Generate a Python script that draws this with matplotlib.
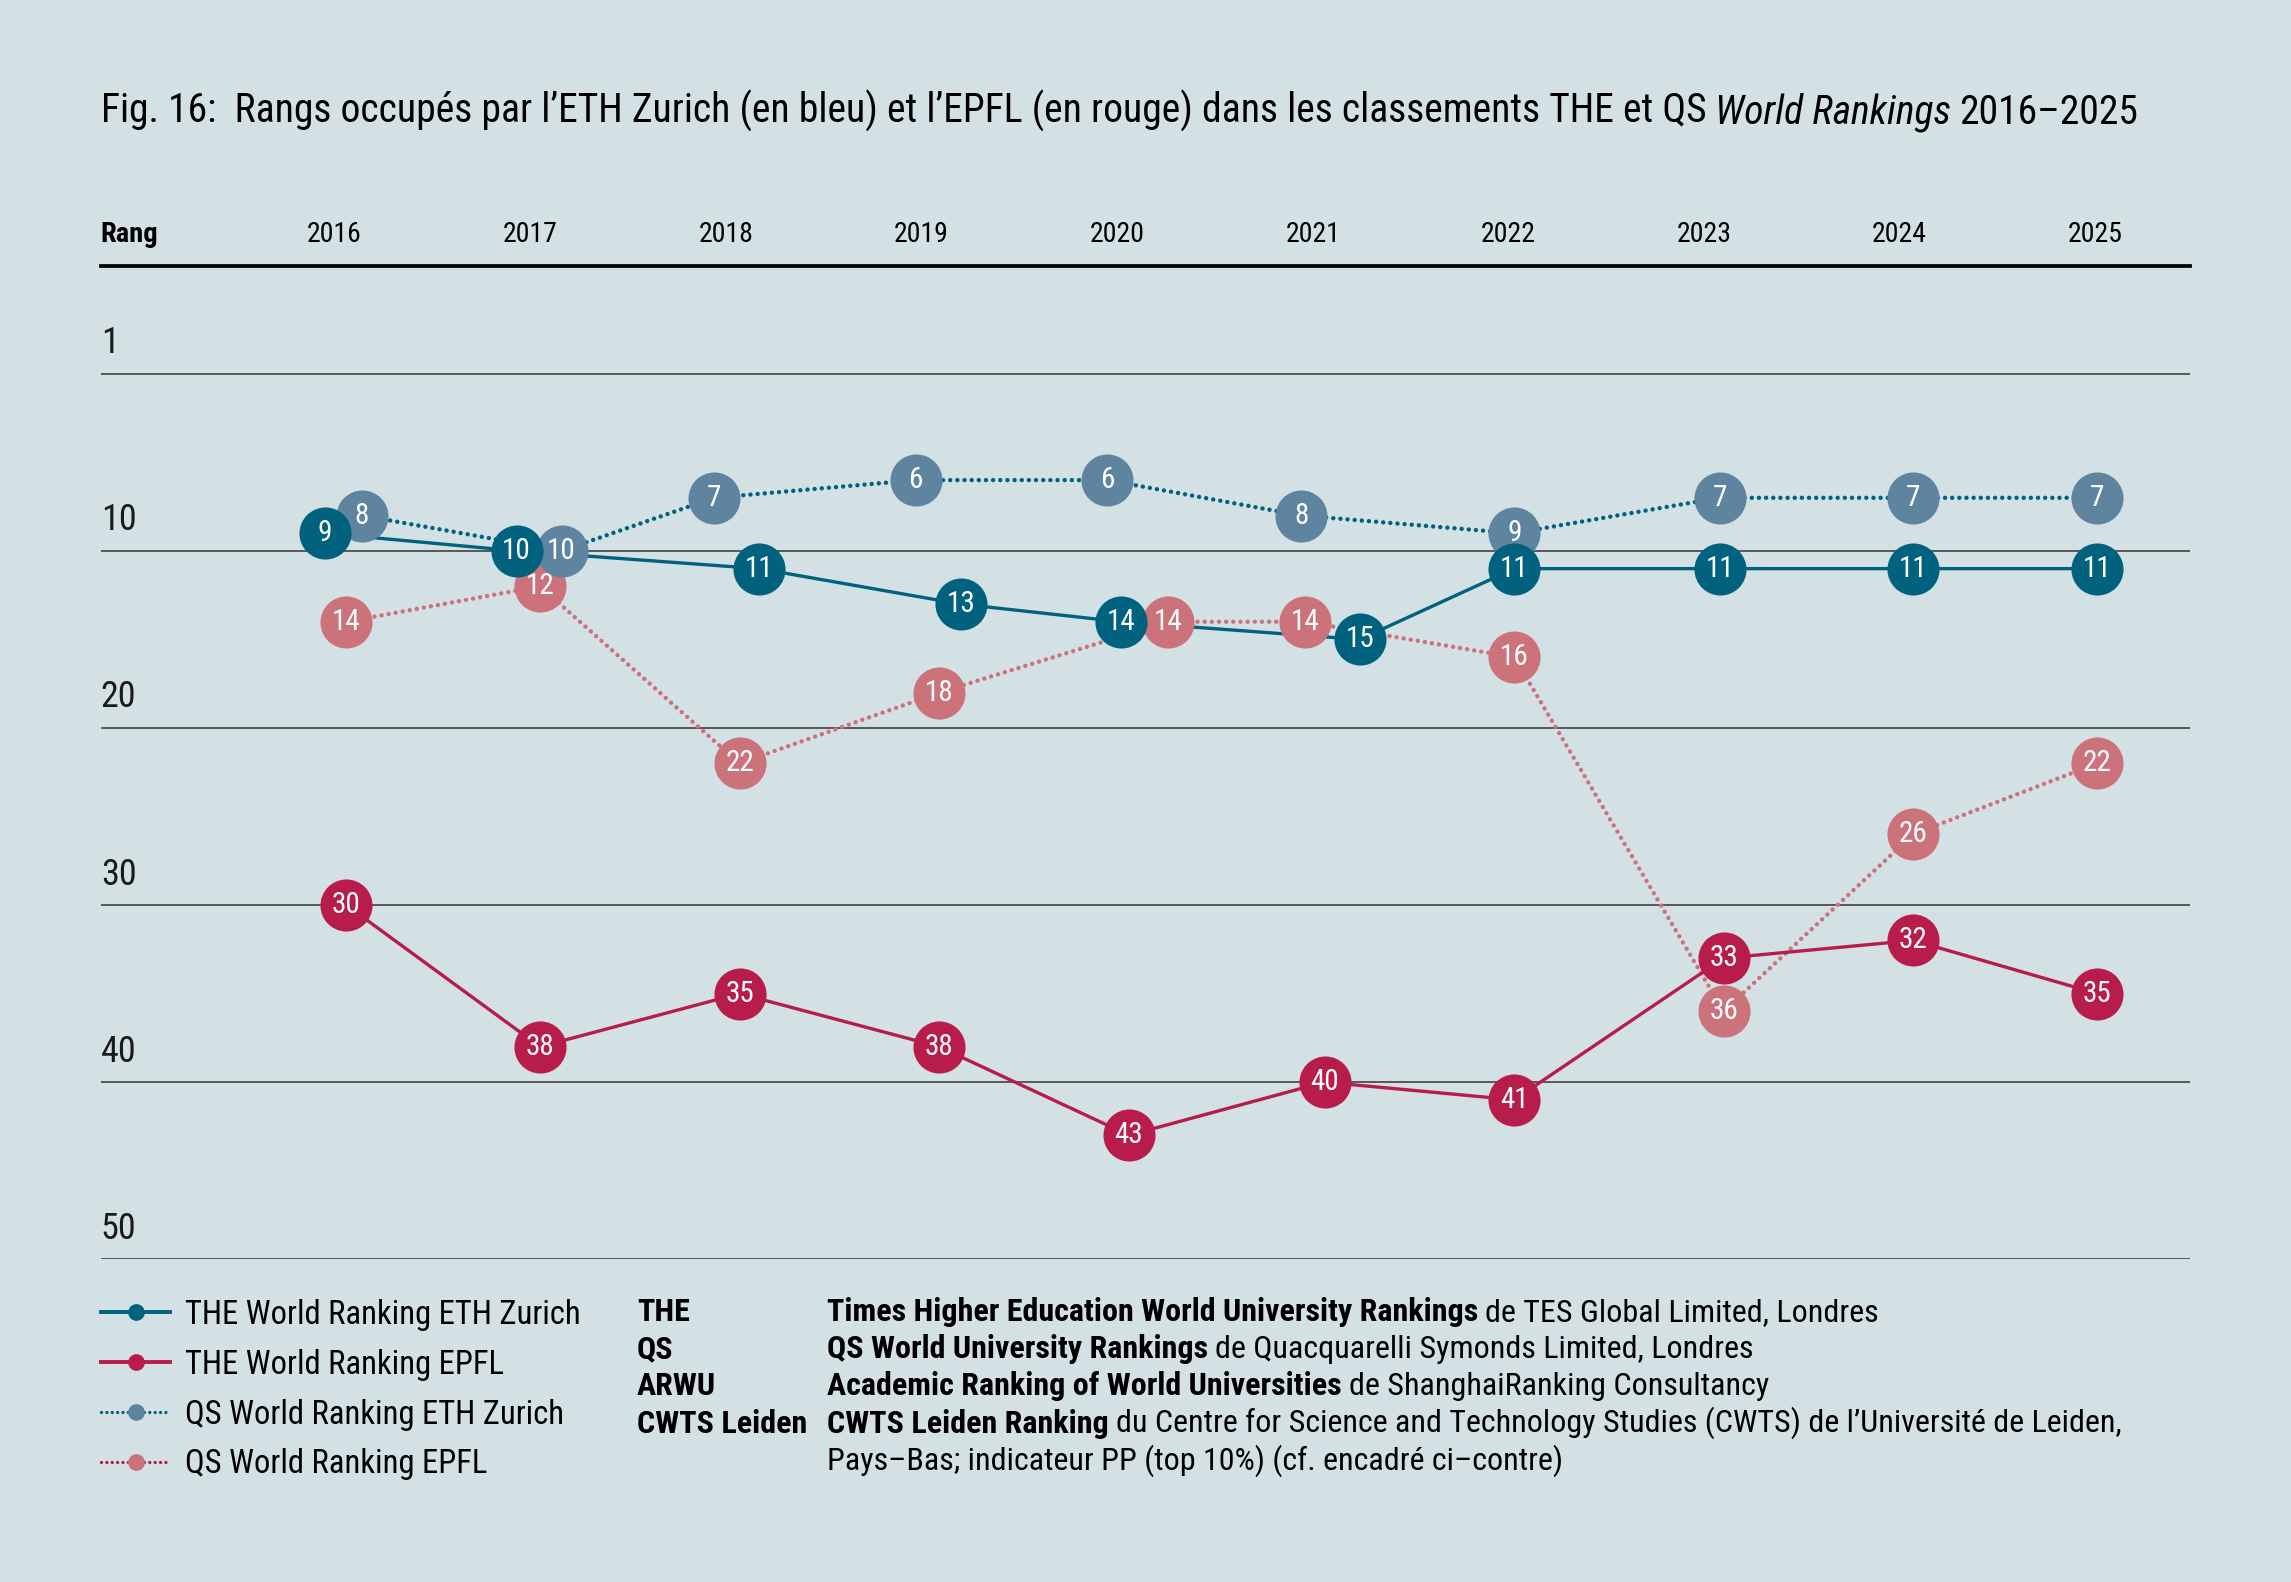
import matplotlib
matplotlib.use('Agg')
from matplotlib import pyplot as plt
from matplotlib import font_manager
from matplotlib.lines import Line2D

# ranks (lower is better)
years = [2016, 2017, 2018, 2019, 2020, 2021, 2022, 2023, 2024, 2025]
the_eth = [9, 10, 11, 13, 14, 15, 11, 11, 11, 11]
the_epfl = [30, 38, 35, 38, 43, 40, 41, 33, 32, 35]
qs_eth = [8, 10, 7, 6, 6, 8, 9, 7, 7, 7]
qs_epfl = [14, 12, 22, 18, 14, 14, 16, 36, 26, 22]

# small horizontal dodge so the circles do not sit on top of each other
the_eth_shift = [-0.05, -0.07, 0.17, 0.20, 0.02, 0.24, 0.03, 0.08, 0.07, 0.01]
the_epfl_shift = [0.06, 0.05, 0.07, 0.09, 0.06, 0.06, 0.03, 0.10, 0.07, 0.01]
qs_eth_shift = [0.14, 0.16, -0.06, -0.03, -0.05, -0.06, 0.03, 0.08, 0.07, 0.01]
qs_epfl_shift = [0.06, 0.05, 0.07, 0.09, 0.26, -0.04, 0.03, 0.10, 0.07, 0.01]

grid_ranks = [0, 10, 20, 30, 40, 50]
grid_labels = ['1', '10', '20', '30', '40', '50']

legend_labels = ['THE World Ranking ETH Zurich', 'THE World Ranking EPFL',
                 'QS World Ranking ETH Zurich', 'QS World Ranking EPFL']
source_abbr = ['THE', 'QS', 'ARWU', 'CWTS Leiden', '']
source_bold = ['Times Higher Education World University Rankings',
               'QS World University Rankings',
               'Academic Ranking of World Universities',
               'CWTS Leiden Ranking', '']
source_rest = ['de TES Global Limited, Londres',
               'de Quacquarelli Symonds Limited, Londres',
               'de ShanghaiRanking Consultancy',
               'du Centre for Science and Technology Studies (CWTS) de l’Université de Leiden,',
               'Pays–Bas; indicateur PP (top 10%) (cf. encadré ci–contre)']

BG = '#d4e1e4'
DARK_BLUE = '#00627f'
GREY_BLUE = '#5f84a0'
CRIMSON = '#b81c4b'
PINK = '#cc727a'

# pick a narrow face if there is one, the original uses a condensed sans
fonts = font_manager.fontManager.ttflist
names = {f.name for f in fonts}
stretch = 'normal'
base = 'Roboto'
for cand in ['Liberation Sans Narrow', 'Roboto Condensed', 'Open Sans Condensed',
             'Noto Sans Condensed', 'DejaVu Sans Condensed']:
    if cand in names:
        base = cand
        break
else:
    for fam in ['Roboto', 'Noto Sans', 'Open Sans']:
        if any(f.name == fam and str(f.stretch) in ('condensed', 'semi-condensed', '75', '87')
               for f in fonts):
            base = fam
            stretch = 'condensed'
            break
plt.rcParams['font.family'] = [base, 'DejaVu Sans']
plt.rcParams['font.stretch'] = stretch

W, H = 1568, 1083  # layout measured on the preview


def fx(px):
    return px / W


def fy(py):
    return 1 - py / H


fig = plt.figure(figsize=(22.91, 15.82), dpi=100, facecolor=BG)
ax = fig.add_axes([fx(69), fy(862), fx(1499) - fx(69), fy(182) - fy(862)])
ax.set_facecolor(BG)
ax.set_xlim(2014.805, 2025.485)
ax.set_ylim(50, -6.1)

for s in ['left', 'right', 'bottom']:
    ax.spines[s].set_visible(False)
ax.spines['top'].set_linewidth(2.7)
ax.spines['top'].set_color('black')
ax.set_yticks([])
ax.set_xticks(years)
ax.set_xticklabels([str(y) for y in years])
ax.tick_params(axis='x', top=True, bottom=False, labeltop=True, labelbottom=False,
               length=0, pad=13, labelsize=20)

for r, lab in zip(grid_ranks, grid_labels):
    ax.axhline(r, color='#4d4d4d', lw=1.3, zorder=1)
    ax.annotate(lab, xy=(2014.805, r), xytext=(0, 9), textcoords='offset points',
                ha='left', va='bottom', fontsize=26, color='#1a1a1a')

ax.annotate('Rang', xy=(0, 1), xycoords='axes fraction', xytext=(0, 13),
            textcoords='offset points', ha='left', va='bottom',
            fontsize=20.5, fontweight='bold')

dots = (0, (0.01, 1.6))
series = [
    (qs_epfl, qs_epfl_shift, PINK, PINK, dots, 3.2, 3),
    (the_epfl, the_epfl_shift, CRIMSON, CRIMSON, '-', 2.4, 4),
    (qs_eth, qs_eth_shift, DARK_BLUE, GREY_BLUE, dots, 3.2, 5),
    (the_eth, the_eth_shift, DARK_BLUE, DARK_BLUE, '-', 2.4, 6),
]

for vals, shift, lc, mc, ls, lw, z in series:
    xs = [y + s for y, s in zip(years, shift)]
    ax.plot(xs, vals, color=lc, ls=ls, lw=lw, zorder=2, solid_capstyle='round',
            dash_capstyle='round')
    ax.plot(xs, vals, ls='none', marker='o', markersize=37.5, markerfacecolor=mc,
            markeredgecolor='none', zorder=z)
    for x, v in zip(xs, vals):
        ax.text(x, v, str(v), ha='center', va='center', color='white',
                fontsize=21, zorder=z + 0.5)

# title with italic part
tsize = 28
t1 = fig.text(fx(69), fy(76), 'Fig. 16:  Rangs occupés par l’ETH Zurich (en bleu) et l’EPFL '
              '(en rouge) dans les classements THE et QS', fontsize=tsize,
              ha='left', va='center')
t2 = plt.annotate('World Rankings', xy=(1, 0), xycoords=t1, xytext=(6, 0),
                  textcoords='offset points', fontsize=tsize, fontstyle='italic',
                  ha='left', va='bottom')
t3 = plt.annotate('2016–2025', xy=(1, 0), xycoords=t2, xytext=(6, 0),
                  textcoords='offset points', fontsize=tsize, ha='left', va='bottom')

# legend
leg_fs = 23.5
handles = [
    Line2D([], [], color=DARK_BLUE, lw=2.8, marker='o', markersize=11),
    Line2D([], [], color=CRIMSON, lw=2.8, marker='o', markersize=11),
    Line2D([], [], color=DARK_BLUE, lw=2.4, ls=dots, dash_capstyle='round', marker='o',
           markersize=11, markerfacecolor=GREY_BLUE, markeredgecolor=GREY_BLUE),
    Line2D([], [], color=CRIMSON, lw=2.4, ls=dots, dash_capstyle='round', marker='o',
           markersize=11, markerfacecolor=PINK, markeredgecolor=PINK),
]
fig.legend(handles, legend_labels, loc='upper left', bbox_to_anchor=(fx(69), fy(889)),
           frameon=False, fontsize=leg_fs, handlelength=50 / leg_fs,
           handletextpad=10.5 / leg_fs, labelspacing=0.55, borderpad=0, borderaxespad=0)

# sources
src_fs = 23
for i, (ab, bd, rest) in enumerate(zip(source_abbr, source_bold, source_rest)):
    y = fy(898 + i * 25.5)
    if ab:
        fig.text(fx(436), y, ab, fontsize=src_fs, fontweight='bold', ha='left', va='center')
    if bd:
        tb = fig.text(fx(566), y, bd, fontsize=src_fs, fontweight='bold', ha='left',
                      va='center')
        plt.annotate(rest, xy=(1, 0), xycoords=tb, xytext=(5, 0),
                     textcoords='offset points', fontsize=src_fs, ha='left', va='bottom')
    else:
        fig.text(fx(566), y, rest, fontsize=src_fs, ha='left', va='center')

# scale the title so it ends where the original ends
fig.canvas.draw()
r = fig.canvas.get_renderer()
left = t1.get_window_extent(r).x0
right = t3.get_window_extent(r).x1
target = (1464 - 69) / W * fig.bbox.width
k = target / (right - left)
for t in (t1, t2, t3):
    t.set_fontsize(tsize * k)

fig.savefig('out.png', dpi=100, facecolor=BG)
